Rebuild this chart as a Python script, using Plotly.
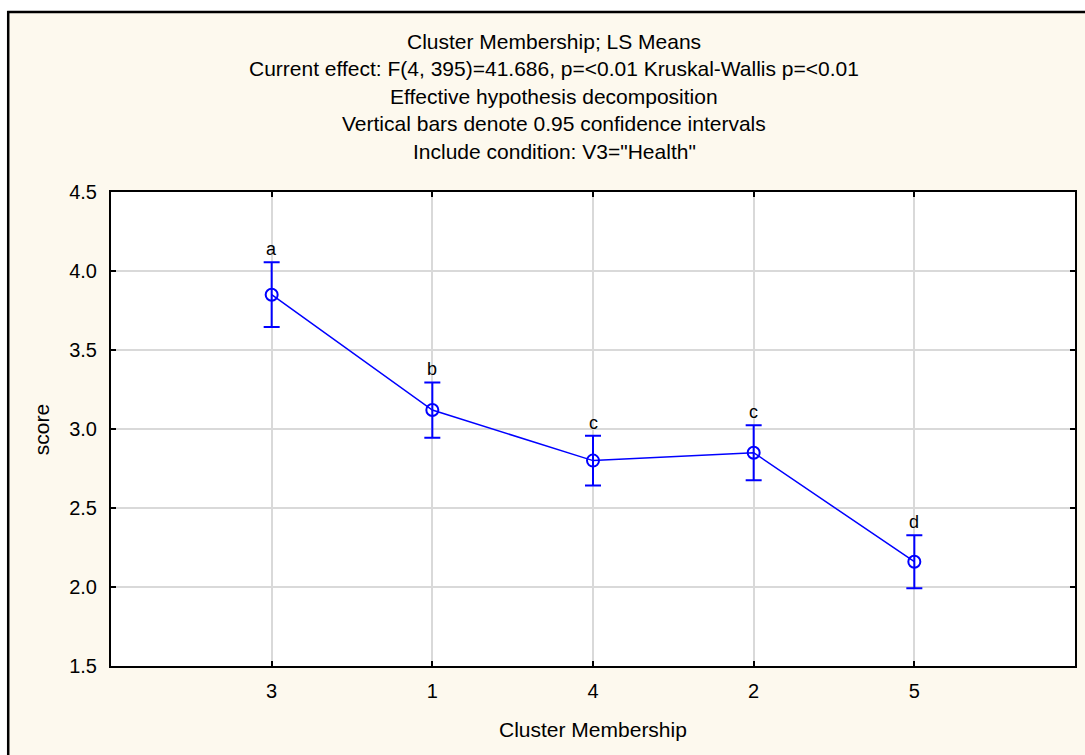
import plotly.graph_objects as go

# ---- data ----
clusters = ["3", "1", "4", "2", "5"]
means = [3.85, 3.12, 2.80, 2.85, 2.16]
ci_half = [0.205, 0.175, 0.157, 0.174, 0.168]
group_letters = ["a", "b", "c", "c", "d"]
y_ticks = [1.5, 2.0, 2.5, 3.0, 3.5, 4.0, 4.5]
title_lines = [
    "Cluster Membership; LS Means",
    "Current effect: F(4, 395)=41.686, p=<0.01 Kruskal-Wallis p=<0.01",
    "Effective hypothesis decomposition",
    "Vertical bars denote 0.95 confidence intervals",
    'Include condition: V3="Health"',
]
x_title = "Cluster Membership"
y_title = "score"

# ---- layout geometry (pixels) ----
W, H = 1085, 755
L, R, T, B = 111, 1077, 192, 666
FONT = "Arial, 'Liberation Sans', sans-serif"
BLUE = "#0000FF"
CREAM = "#FDF9EE"


def px2x(px):
    return (px - L) / (R - L)


def py2y(py):
    return (B - py) / (B - T)


fig = go.Figure()
fig.add_trace(go.Scatter(
    x=clusters, y=means,
    mode="lines+markers",
    line=dict(color=BLUE, width=1.5),
    marker=dict(symbol="circle-open", size=12, color=BLUE, line=dict(width=2, color=BLUE)),
    error_y=dict(type="data", array=ci_half, visible=True, color=BLUE, thickness=2, width=8),
    showlegend=False,
    hoverinfo="x+y",
))

annotations = []
for i, (m, e, lab) in enumerate(zip(means, ci_half, group_letters)):
    annotations.append(dict(
        x=i, y=m + e, xref="x", yref="y", text=lab, showarrow=False,
        yanchor="bottom", yshift=1, font=dict(family=FONT, size=18, color="black"),
    ))

title_y = [41, 68.5, 96, 123.5, 151]
for txt, py in zip(title_lines, title_y):
    annotations.append(dict(
        x=px2x(555), y=py2y(py), xref="paper", yref="paper", text=txt,
        showarrow=False, xanchor="center", yanchor="middle",
        font=dict(family=FONT, size=21, color="black"),
    ))

annotations.append(dict(
    x=px2x(594), y=py2y(729), xref="paper", yref="paper", text=x_title,
    showarrow=False, xanchor="center", yanchor="middle",
    font=dict(family=FONT, size=21, color="black"),
))
annotations.append(dict(
    x=px2x(41), y=py2y(430), xref="paper", yref="paper", text=y_title,
    showarrow=False, xanchor="center", yanchor="middle", textangle=-90,
    font=dict(family=FONT, size=21, color="black"),
))

shapes = [
    # white outside the cream frame (top and left)
    dict(type="rect", xref="paper", yref="paper", x0=px2x(-5), x1=px2x(7), y0=py2y(-5), y1=py2y(H + 5),
         fillcolor="white", line=dict(width=0), layer="above"),
    dict(type="rect", xref="paper", yref="paper", x0=px2x(-5), x1=px2x(W + 5), y0=py2y(-5), y1=py2y(11),
         fillcolor="white", line=dict(width=0), layer="above"),
    # black frame lines
    dict(type="line", xref="paper", yref="paper", x0=px2x(8), x1=px2x(8), y0=py2y(11), y1=py2y(H + 5),
         line=dict(color="black", width=2.5), layer="above"),
    dict(type="line", xref="paper", yref="paper", x0=px2x(7), x1=px2x(W + 5), y0=py2y(12), y1=py2y(12),
         line=dict(color="black", width=2.5), layer="above"),
]

axis_common = dict(
    showline=True, linecolor="black", linewidth=2, mirror="ticks",
    ticks="inside", ticklen=5, tickwidth=1.5, tickcolor="black",
    showgrid=True, gridcolor="#D9D9D9", gridwidth=1.5, zeroline=False,
    tickfont=dict(family=FONT, size=20, color="black"),
)

fig.update_layout(
    width=W, height=H,
    margin=dict(l=L, r=W - R, t=T, b=H - B, pad=0),
    paper_bgcolor=CREAM, plot_bgcolor="white",
    xaxis=dict(type="category", categoryorder="array", categoryarray=clusters,
               range=[-1, len(clusters)], ticklabelstandoff=6, **axis_common),
    yaxis=dict(range=[y_ticks[0], y_ticks[-1]], tickvals=y_ticks,
               ticktext=[f"{v:.1f}" for v in y_ticks], ticklabelstandoff=8, **axis_common),
    annotations=annotations,
    shapes=shapes,
    font=dict(family=FONT, color="black"),
)

fig.write_html("out.html")
